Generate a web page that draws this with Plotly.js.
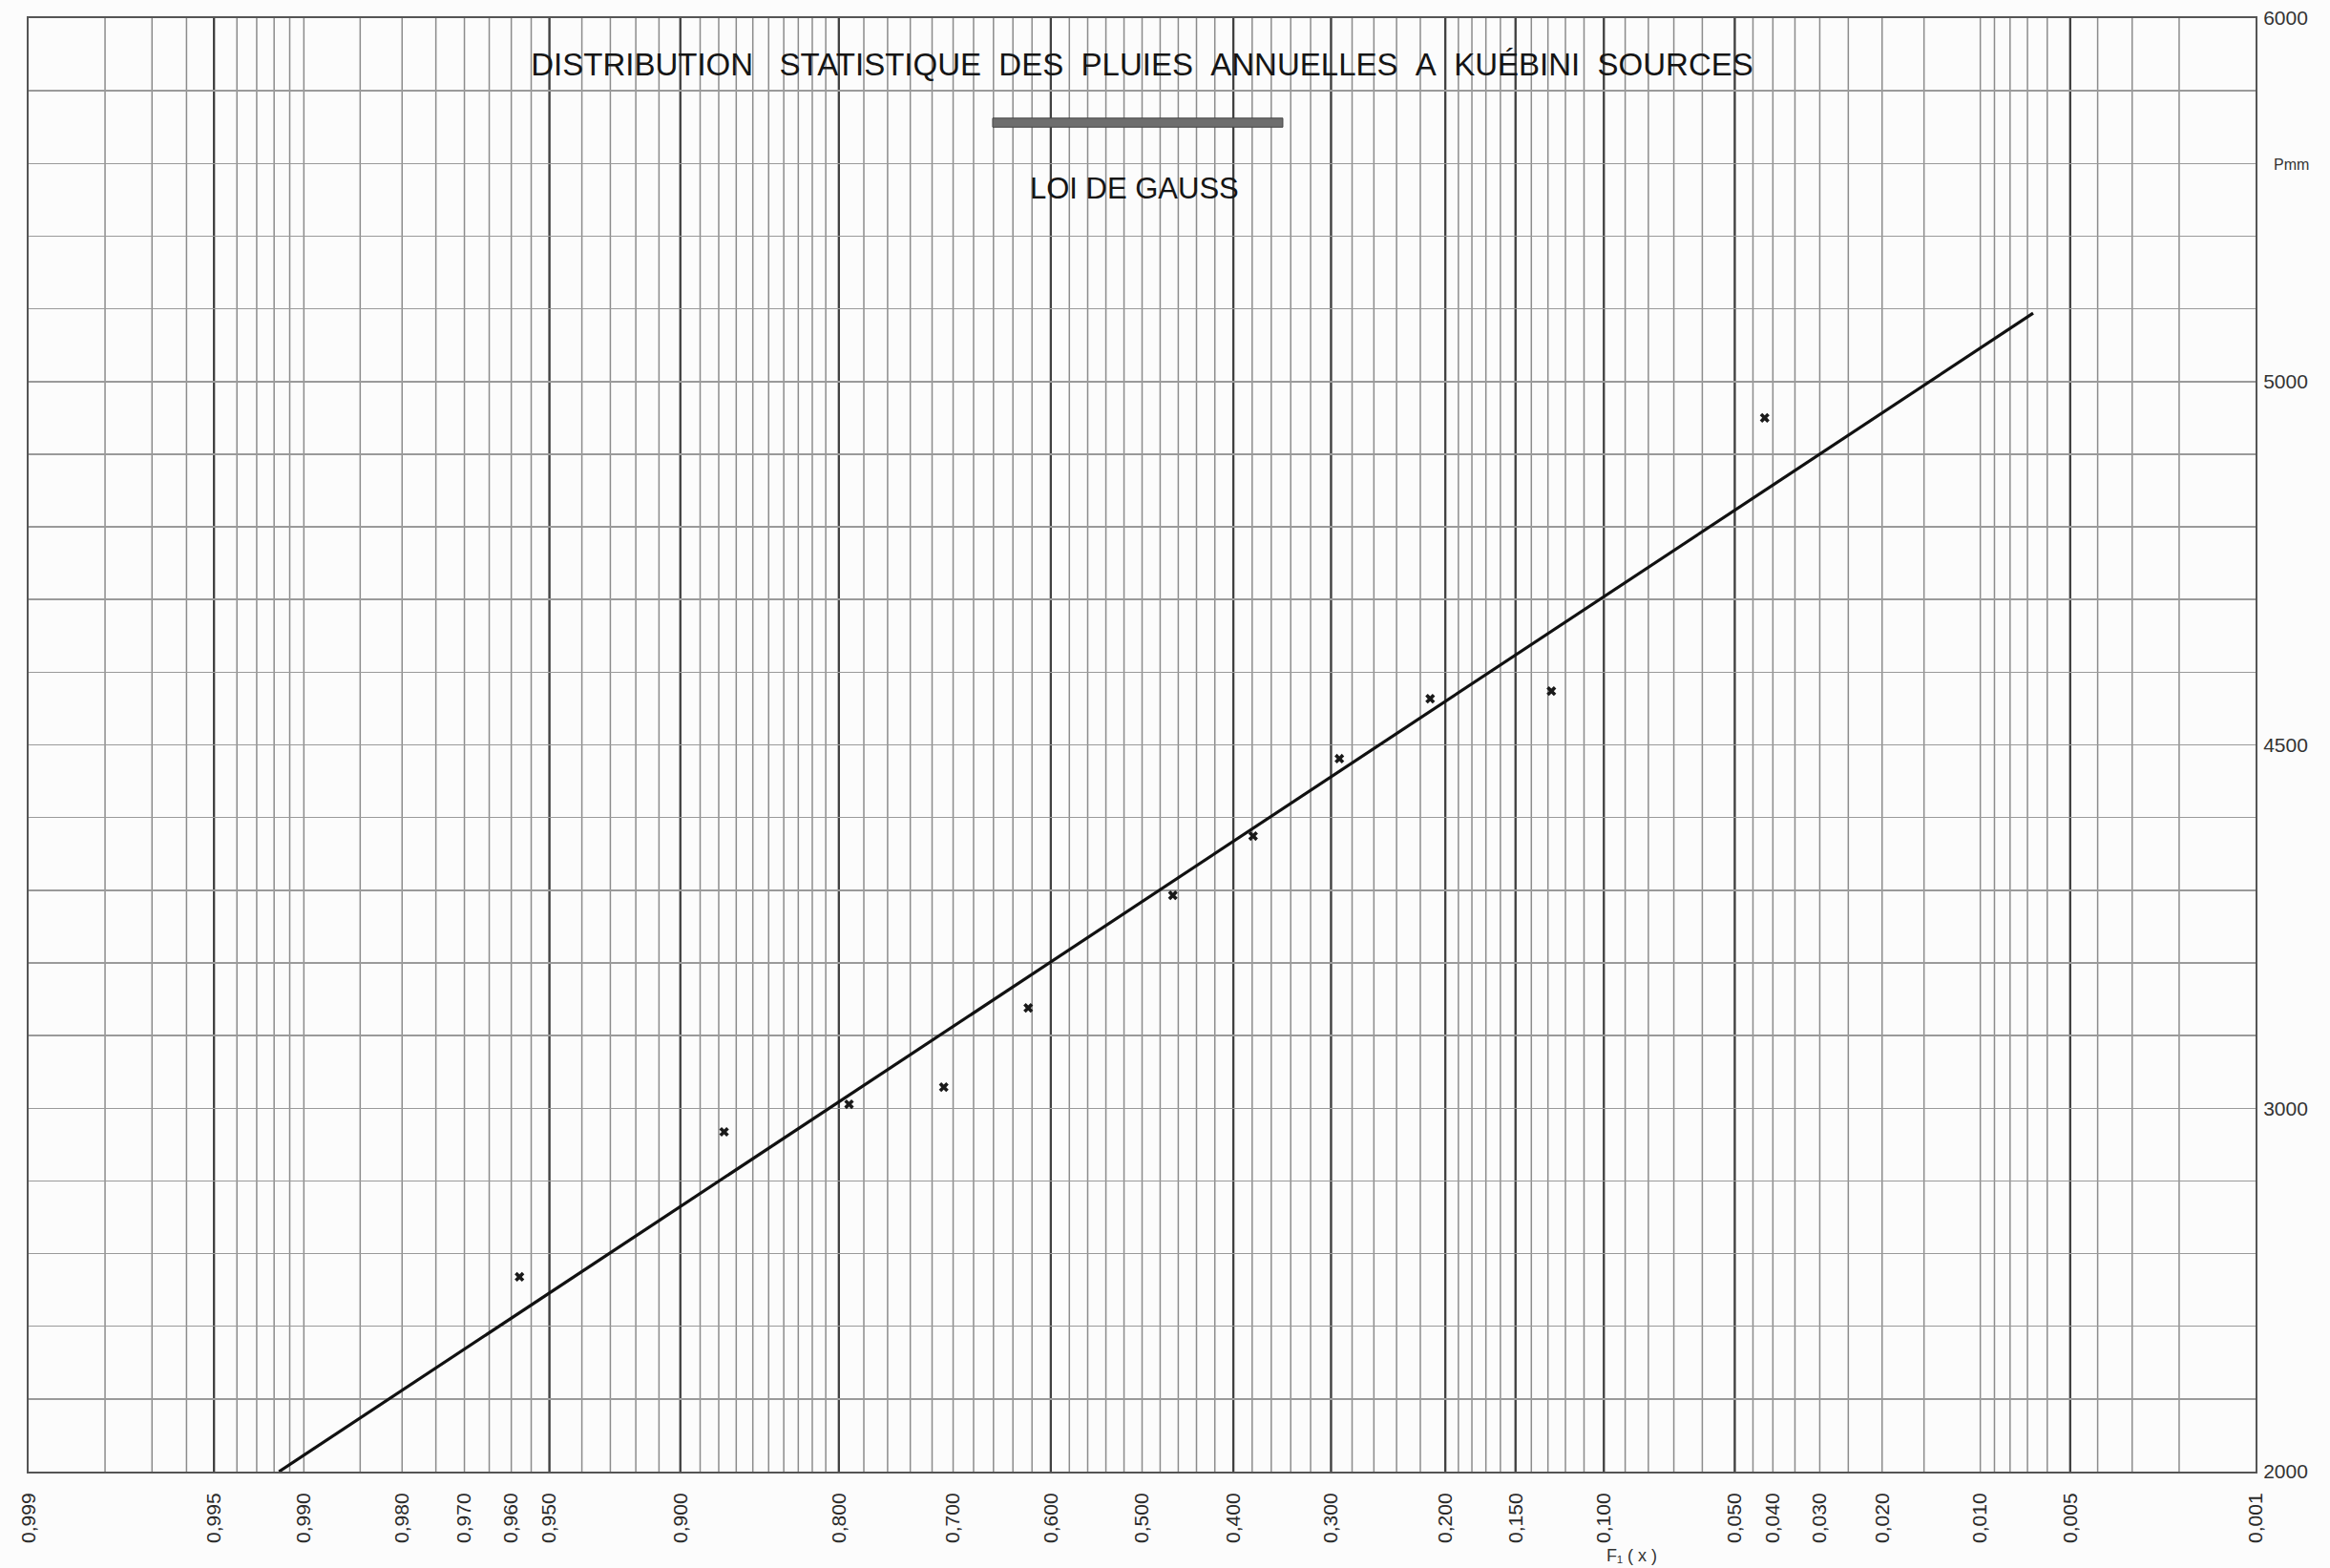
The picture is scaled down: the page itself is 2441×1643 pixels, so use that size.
<!DOCTYPE html>
<html>
<head>
<meta charset="utf-8">
<script src="https://cdn.plot.ly/plotly-3.0.1.min.js"></script>
<style>
  html, body { margin: 0; padding: 0; background: #fcfcfc; }
  #chart { width: 2441px; height: 1643px; }
</style>
</head>
<body>
<div id="chart"></div>
<script>
// ---- Data (F1(x) = frequency, P = annual rainfall in mm) ----
const obsF = [0.958, 0.877, 0.792, 0.709, 0.624, 0.466, 0.379, 0.292, 0.212, 0.128, 0.042];
const obsP = [2536, 2935, 3011, 3058, 3276, 3586, 3749, 3962, 4127, 4148, 4900];

// fitted Gauss law (straight line on probability paper)
const lineF = [0.9917, 0.0067];
const lineP = [2000, 5188];

// x tick labels (probability scale)
const xTickProbs = [0.999, 0.995, 0.990, 0.980, 0.970, 0.960, 0.950, 0.900, 0.800, 0.700, 0.600, 0.500,
                    0.400, 0.300, 0.200, 0.150, 0.100, 0.050, 0.040, 0.030, 0.020, 0.010, 0.005, 0.001];
const xTickText  = ["0,999", "0,995", "0,990", "0,980", "0,970", "0,960", "0,950", "0,900", "0,800", "0,700", "0,600", "0,500",
                    "0,400", "0,300", "0,200", "0,150", "0,100", "0,050", "0,040", "0,030", "0,020", "0,010", "0,005", "0,001"];

// probability-paper grid
const gridProbs = [0.998, 0.997, 0.996, 0.995, 0.994, 0.993, 0.992, 0.991, 0.990, 0.985, 0.980, 0.975,
  0.970, 0.965, 0.960, 0.955, 0.950, 0.94, 0.93, 0.92, 0.91, 0.90, 0.89, 0.88, 0.87, 0.86, 0.85, 0.84,
  0.83, 0.82, 0.81, 0.80, 0.78, 0.76, 0.74, 0.72, 0.70, 0.68, 0.66, 0.64, 0.62, 0.60, 0.58, 0.56, 0.54,
  0.52, 0.50, 0.48, 0.46, 0.44, 0.42, 0.40, 0.38, 0.36, 0.34, 0.32, 0.30, 0.28, 0.26, 0.24, 0.22, 0.20,
  0.19, 0.18, 0.17, 0.16, 0.15, 0.14, 0.13, 0.12, 0.11, 0.10, 0.09, 0.08, 0.07, 0.06, 0.05, 0.045, 0.04,
  0.035, 0.03, 0.025, 0.02, 0.015, 0.01, 0.009, 0.008, 0.007, 0.006, 0.005, 0.004, 0.003, 0.002];
const thickProbs = [0.995, 0.95, 0.90, 0.80, 0.60, 0.40, 0.30, 0.20, 0.15, 0.10, 0.05, 0.005];

// y axis (Pmm)
const yTickVals = [2000, 3000, 4000, 5000, 6000];
const yTickText = ["2000", "3000", "4500", "5000", "6000"];
const yRange = [2000, 6000];
const yGridStep = 200;

// ---- inverse normal CDF (probability-paper scale) ----
function probit(p) {
  const a = [-3.969683028665376e+01, 2.209460984245205e+02, -2.759285104469687e+02, 1.383577518672690e+02, -3.066479806614716e+01, 2.506628277459239e+00];
  const b = [-5.447609879822406e+01, 1.615858368580409e+02, -1.556989798598866e+02, 6.680131188771972e+01, -1.328068155288572e+01];
  const c = [-7.784894002430293e-03, -3.223964580411365e-01, -2.400758277161838e+00, -2.549732539343734e+00, 4.374664141464968e+00, 2.938163982698783e+00];
  const d = [7.784695709041462e-03, 3.224671290700398e-01, 2.445134137142996e+00, 3.754408661907416e+00];
  const pl = 0.02425, ph = 1 - pl;
  let q, r;
  if (p < pl) {
    q = Math.sqrt(-2 * Math.log(p));
    return (((((c[0]*q+c[1])*q+c[2])*q+c[3])*q+c[4])*q+c[5]) / ((((d[0]*q+d[1])*q+d[2])*q+d[3])*q+1);
  }
  if (p <= ph) {
    q = p - 0.5; r = q * q;
    return (((((a[0]*r+a[1])*r+a[2])*r+a[3])*r+a[4])*r+a[5])*q / (((((b[0]*r+b[1])*r+b[2])*r+b[3])*r+b[4])*r+1);
  }
  q = Math.sqrt(-2 * Math.log(1 - p));
  return -(((((c[0]*q+c[1])*q+c[2])*q+c[3])*q+c[4])*q+c[5]) / ((((d[0]*q+d[1])*q+d[2])*q+d[3])*q+1);
}
// F = 0.999 on the left, 0.001 on the right
const tx = F => -probit(F);

const FONT = "Liberation Sans, Arial, sans-serif";

const traces = [
  {
    x: lineF.map(tx), y: lineP, type: 'scatter', mode: 'lines',
    line: { color: '#111111', width: 3.2 }, hoverinfo: 'skip', showlegend: false
  },
  {
    x: obsF.map(tx), y: obsP, type: 'scatter', mode: 'markers',
    marker: { symbol: 'x', size: 9, color: '#1a1a1a', line: { width: 0 } },
    hoverinfo: 'skip', showlegend: false
  }
];

// vertical probability-paper grid, through the x scale
const shapes = gridProbs.map(p => ({
  type: 'line', xref: 'x', yref: 'paper', x0: tx(p), x1: tx(p), y0: 0, y1: 1,
  line: { color: '#8c8c8c', width: 1.5 }, layer: 'below'
}));
thickProbs.forEach(p => shapes.push({
  type: 'line', xref: 'x', yref: 'paper', x0: tx(p), x1: tx(p), y0: 0, y1: 1,
  line: { color: '#404040', width: 2.3 }, layer: 'between'
}));
// double rule under the title
shapes.push({
  type: 'rect', xref: 'paper', yref: 'paper', x0: 0.4329, x1: 0.5632, y0: 0.9250, y1: 0.9312,
  fillcolor: '#6e6e6e', line: { color: '#444444', width: 1 }, layer: 'above'
});

const layout = {
  width: 2441, height: 1643,
  paper_bgcolor: '#fcfcfc', plot_bgcolor: '#fcfcfc',
  margin: { l: 30, r: 78, t: 19, b: 101, pad: 0 },
  showlegend: false,
  title: {
    text: 'DISTRIBUTION\u00A0\u00A0\u00A0STATISTIQUE\u00A0\u00A0DES\u00A0\u00A0PLUIES\u00A0\u00A0ANNUELLES\u00A0\u00A0A\u00A0\u00A0KUÉBINI\u00A0\u00A0SOURCES',
    font: { family: FONT, size: 33, color: '#151515' },
    x: 0.5, xanchor: 'center', xref: 'paper',
    y: 1 - 67 / 1643, yanchor: 'middle', yref: 'container'
  },
  xaxis: {
    range: [tx(0.999), tx(0.001)],
    tickmode: 'array', tickvals: xTickProbs.map(tx), ticktext: xTickText,
    tickangle: -90, ticks: '', ticklabelstandoff: 12,
    tickfont: { family: FONT, size: 21, color: '#2a2a2a' },
    showgrid: false,
    showline: true, linecolor: '#555555', linewidth: 2, mirror: true,
    zeroline: false, fixedrange: true
  },
  yaxis: {
    side: 'right', range: yRange,
    tickmode: 'array', tickvals: yTickVals, ticktext: yTickText,
    ticks: '', ticklabelstandoff: 2,
    tickfont: { family: FONT, size: 21, color: '#333333' },
    showgrid: true, gridcolor: '#9a9a9a', gridwidth: 1.5,
    minor: { tickmode: 'linear', tick0: yRange[0], dtick: yGridStep, showgrid: true, gridcolor: '#9a9a9a', gridwidth: 1.5, ticks: '' },
    showline: true, linecolor: '#555555', linewidth: 2, mirror: true,
    zeroline: false, fixedrange: true
  },
  shapes: shapes,
  annotations: [
    {
      text: 'LOI DE GAUSS', xref: 'paper', yref: 'paper',
      x: (1188 - 30) / 2333, y: 1 - (197 - 19) / 1523, xanchor: 'center', yanchor: 'middle',
      showarrow: false, font: { family: FONT, size: 31, color: '#151515' }
    },
    {
      text: 'Pmm', xref: 'paper', yref: 'paper',
      x: (2400 - 30) / 2333, y: 1 - (172 - 19) / 1523, xanchor: 'center', yanchor: 'middle',
      showarrow: false, font: { family: FONT, size: 16, color: '#333333' }
    },
    {
      text: 'F₁ ( x )', xref: 'paper', yref: 'paper',
      x: (1709 - 30) / 2333, y: 1 - (1630 - 19) / 1523, xanchor: 'center', yanchor: 'middle',
      showarrow: false, font: { family: FONT, size: 18, color: '#333333' }
    }
  ]
};

Plotly.newPlot('chart', traces, layout, { staticPlot: true, displayModeBar: false });
</script>
</body>
</html>
